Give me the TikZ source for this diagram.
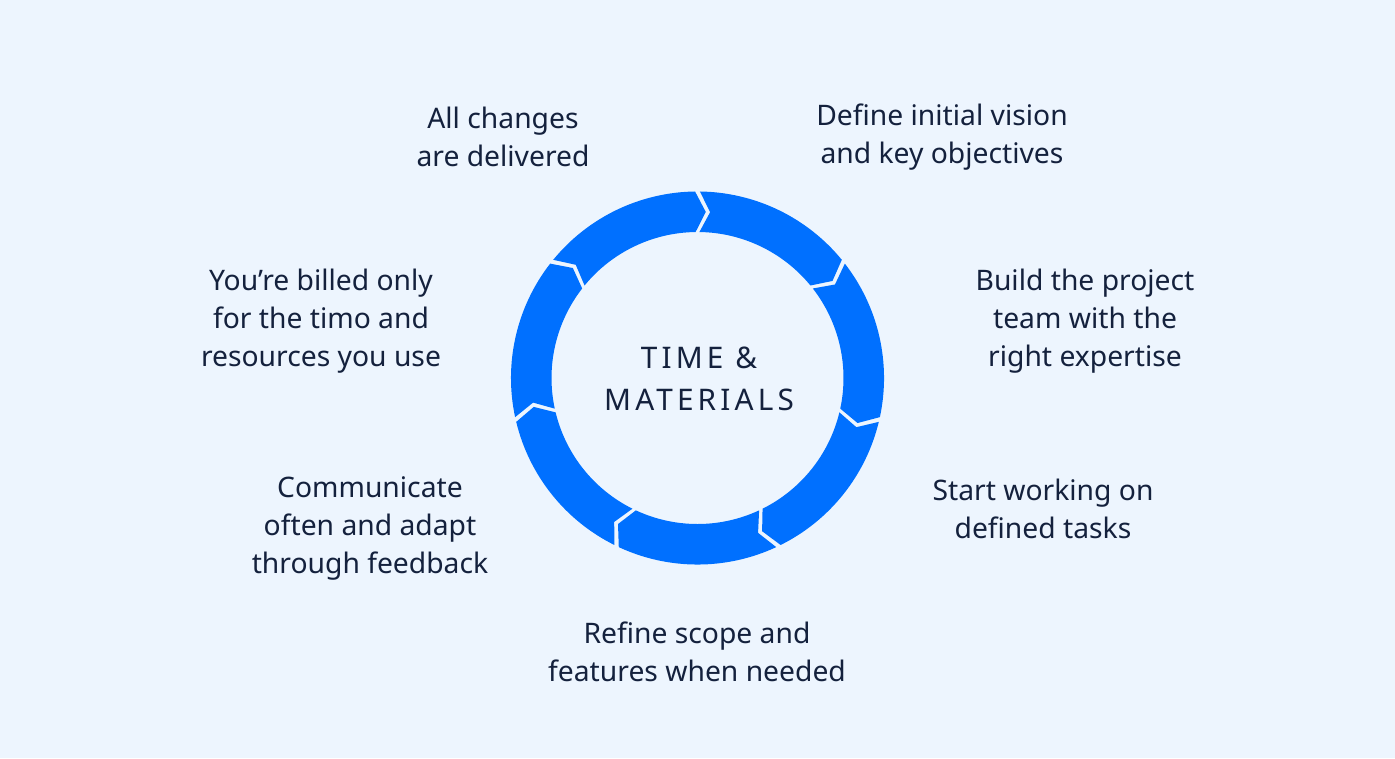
\documentclass[tikz,border=0pt]{standalone}
\usepackage{fontspec}
\setmainfont{Noto Sans}
\definecolor{bg}{HTML}{EDF5FE}
\definecolor{ring}{HTML}{0070FF}
\definecolor{ink}{HTML}{14213D}
\begin{document}
\begin{tikzpicture}[x=0.75pt,y=-0.75pt,
  lbl/.style={align=center,text=ink,font=\fontsize{21.2}{28.5}\selectfont}]
\fill[bg] (0,0) rectangle (1395,758);
\useasboundingbox (0,0) rectangle (1395,758);
\begin{scope}[shift={(697.5,378)}]
\def\R{139.9pt}\def\r{109.5pt}\def\m{124.7pt}\def\g{0.75}\def\d{3.6}
\foreach \i in {0,...,6}{
  \pgfmathsetmacro\aa{90+360/7*(\i+1)-\g}
  \pgfmathsetmacro\bb{90+360/7*\i+\g}
  \pgfmathsetmacro\ca{\aa-\d}
  \pgfmathsetmacro\cb{\bb-\d}
  \fill[ring] (\aa:\R) arc[start angle=\aa,end angle=\bb,radius=\R]
    -- (\cb:\m) -- (\bb:\r) arc[start angle=\bb,end angle=\aa,radius=\r]
    -- (\ca:\m) -- cycle;
}
\end{scope}
\node[align=center,text=ink,font=\fontsize{22.3}{31.5}\selectfont\addfontfeature{LetterSpace=14}] (c) at (699,379) {TIME \&\\MATERIALS};
\node[lbl] (l1) at (503,137) {All changes\\are delivered};
\node[lbl] (l2) at (942,137) {Define initial vision\\and key objectives};
\node[lbl] (l3) at (1085,321) {Build the project\\team with the\\right expertise};
\node[lbl] (l4) at (1043,509) {Start working on\\defined tasks};
\node[lbl] (l5) at (697,652) {Refine scope and\\features when needed};
\node[lbl] (l6) at (370,528) {Communicate\\often and adapt\\through feedback};
\node[lbl] (l7) at (321,321) {You{\char"27}re billed only\\for the timo and\\resources you use};
\end{tikzpicture}
\end{document}
